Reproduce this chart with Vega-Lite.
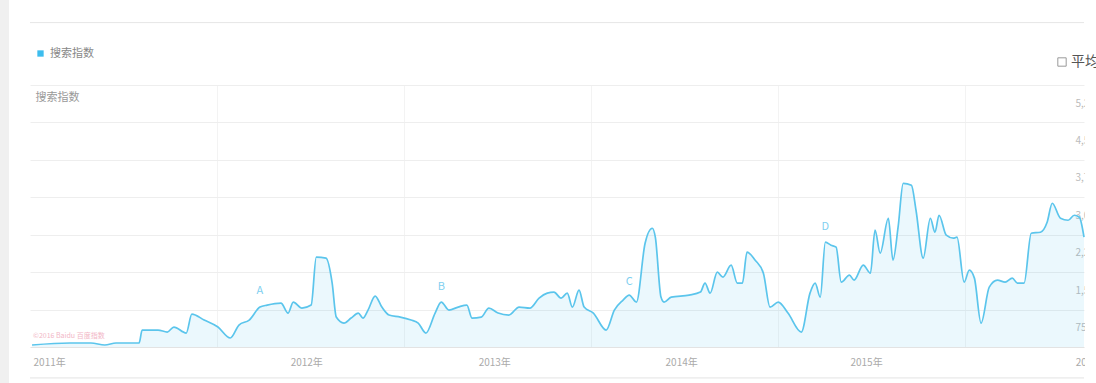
{
  "$schema": "https://vega.github.io/schema/vega-lite/v6.json",
  "width": 1054,
  "height": 262,
  "autosize": {"type": "none"},
  "padding": {"left": 30, "top": 85, "right": 12, "bottom": 36},
  "background": "white",
  "config": {"font": "Noto Sans CJK SC", "view": {"stroke": null}},
  "data": {"values": [{"k": "frame"}]},
  "datasets": {
    "main": [
      {"date": "2011-01-05", "value": 40, "series": "搜索指数"},
      {"date": "2011-03-20", "value": 80, "series": "搜索指数"},
      {"date": "2011-04-30", "value": 80, "series": "搜索指数"},
      {"date": "2011-05-27", "value": 40, "series": "搜索指数"},
      {"date": "2011-06-18", "value": 80, "series": "搜索指数"},
      {"date": "2011-08-02", "value": 80, "series": "搜索指数"},
      {"date": "2011-08-08", "value": 340, "series": "搜索指数"},
      {"date": "2011-09-08", "value": 340, "series": "搜索指数"},
      {"date": "2011-09-26", "value": 300, "series": "搜索指数"},
      {"date": "2011-10-09", "value": 400, "series": "搜索指数"},
      {"date": "2011-11-02", "value": 280, "series": "搜索指数"},
      {"date": "2011-11-13", "value": 660, "series": "搜索指数"},
      {"date": "2011-12-07", "value": 540, "series": "搜索指数"},
      {"date": "2012-01-03", "value": 400, "series": "搜索指数"},
      {"date": "2012-01-27", "value": 180, "series": "搜索指数"},
      {"date": "2012-02-13", "value": 440, "series": "搜索指数"},
      {"date": "2012-03-04", "value": 540, "series": "搜索指数"},
      {"date": "2012-03-25", "value": 800, "series": "搜索指数"},
      {"date": "2012-04-08", "value": 840, "series": "搜索指数"},
      {"date": "2012-05-05", "value": 880, "series": "搜索指数"},
      {"date": "2012-05-19", "value": 680, "series": "搜索指数"},
      {"date": "2012-05-29", "value": 900, "series": "搜索指数"},
      {"date": "2012-06-15", "value": 780, "series": "搜索指数"},
      {"date": "2012-07-03", "value": 840, "series": "搜索指数"},
      {"date": "2012-07-13", "value": 1800, "series": "搜索指数"},
      {"date": "2012-08-01", "value": 1780, "series": "搜索指数"},
      {"date": "2012-08-13", "value": 1280, "series": "搜索指数"},
      {"date": "2012-08-21", "value": 600, "series": "搜索指数"},
      {"date": "2012-09-05", "value": 480, "series": "搜索指数"},
      {"date": "2012-09-19", "value": 580, "series": "搜索指数"},
      {"date": "2012-10-03", "value": 680, "series": "搜索指数"},
      {"date": "2012-10-12", "value": 580, "series": "搜索指数"},
      {"date": "2012-10-22", "value": 740, "series": "搜索指数"},
      {"date": "2012-11-05", "value": 1020, "series": "搜索指数"},
      {"date": "2012-11-18", "value": 800, "series": "搜索指数"},
      {"date": "2012-12-02", "value": 640, "series": "搜索指数"},
      {"date": "2012-12-24", "value": 600, "series": "搜索指数"},
      {"date": "2013-01-14", "value": 540, "series": "搜索指数"},
      {"date": "2013-01-28", "value": 480, "series": "搜索指数"},
      {"date": "2013-02-12", "value": 280, "series": "搜索指数"},
      {"date": "2013-03-02", "value": 680, "series": "搜索指数"},
      {"date": "2013-03-14", "value": 900, "series": "搜索指数"},
      {"date": "2013-03-29", "value": 740, "series": "搜索指数"},
      {"date": "2013-04-16", "value": 800, "series": "搜索指数"},
      {"date": "2013-05-03", "value": 840, "series": "搜索指数"},
      {"date": "2013-05-13", "value": 580, "series": "搜索指数"},
      {"date": "2013-05-31", "value": 600, "series": "搜索指数"},
      {"date": "2013-06-15", "value": 780, "series": "搜索指数"},
      {"date": "2013-07-03", "value": 680, "series": "搜索指数"},
      {"date": "2013-07-24", "value": 640, "series": "搜索指数"},
      {"date": "2013-08-13", "value": 800, "series": "搜索指数"},
      {"date": "2013-09-03", "value": 780, "series": "搜索指数"},
      {"date": "2013-09-21", "value": 980, "series": "搜索指数"},
      {"date": "2013-10-07", "value": 1080, "series": "搜索指数"},
      {"date": "2013-10-20", "value": 1100, "series": "搜索指数"},
      {"date": "2013-11-03", "value": 980, "series": "搜索指数"},
      {"date": "2013-11-15", "value": 1080, "series": "搜索指数"},
      {"date": "2013-11-25", "value": 800, "series": "搜索指数"},
      {"date": "2013-12-08", "value": 1140, "series": "搜索指数"},
      {"date": "2013-12-18", "value": 800, "series": "搜索指数"},
      {"date": "2014-01-05", "value": 680, "series": "搜索指数"},
      {"date": "2014-01-30", "value": 340, "series": "搜索指数"},
      {"date": "2014-02-15", "value": 740, "series": "搜索指数"},
      {"date": "2014-03-04", "value": 940, "series": "搜索指数"},
      {"date": "2014-03-16", "value": 1040, "series": "搜索指数"},
      {"date": "2014-03-30", "value": 900, "series": "搜索指数"},
      {"date": "2014-04-16", "value": 2080, "series": "搜索指数"},
      {"date": "2014-04-30", "value": 2380, "series": "搜索指数"},
      {"date": "2014-05-06", "value": 2200, "series": "搜索指数"},
      {"date": "2014-05-17", "value": 1000, "series": "搜索指数"},
      {"date": "2014-05-23", "value": 900, "series": "搜索指数"},
      {"date": "2014-06-06", "value": 1000, "series": "搜索指数"},
      {"date": "2014-07-11", "value": 1040, "series": "搜索指数"},
      {"date": "2014-08-02", "value": 1100, "series": "搜索指数"},
      {"date": "2014-08-11", "value": 1280, "series": "搜索指数"},
      {"date": "2014-08-21", "value": 1080, "series": "搜索指数"},
      {"date": "2014-09-04", "value": 1500, "series": "搜索指数"},
      {"date": "2014-09-15", "value": 1400, "series": "搜索指数"},
      {"date": "2014-10-01", "value": 1640, "series": "搜索指数"},
      {"date": "2014-10-13", "value": 1280, "series": "搜索指数"},
      {"date": "2014-10-23", "value": 1280, "series": "搜索指数"},
      {"date": "2014-11-01", "value": 1900, "series": "搜索指数"},
      {"date": "2014-11-17", "value": 1740, "series": "搜索指数"},
      {"date": "2014-12-03", "value": 1480, "series": "搜索指数"},
      {"date": "2014-12-16", "value": 800, "series": "搜索指数"},
      {"date": "2015-01-01", "value": 900, "series": "搜索指数"},
      {"date": "2015-01-20", "value": 680, "series": "搜索指数"},
      {"date": "2015-02-15", "value": 300, "series": "搜索指数"},
      {"date": "2015-03-04", "value": 1080, "series": "搜索指数"},
      {"date": "2015-03-14", "value": 1280, "series": "搜索指数"},
      {"date": "2015-03-24", "value": 1000, "series": "搜索指数"},
      {"date": "2015-04-03", "value": 2100, "series": "搜索指数"},
      {"date": "2015-04-14", "value": 2040, "series": "搜索指数"},
      {"date": "2015-04-24", "value": 2000, "series": "搜索指数"},
      {"date": "2015-05-04", "value": 1300, "series": "搜索指数"},
      {"date": "2015-05-20", "value": 1440, "series": "搜索指数"},
      {"date": "2015-05-29", "value": 1340, "series": "搜索指数"},
      {"date": "2015-06-16", "value": 1640, "series": "搜索指数"},
      {"date": "2015-06-30", "value": 1480, "series": "搜索指数"},
      {"date": "2015-07-09", "value": 2340, "series": "搜索指数"},
      {"date": "2015-07-19", "value": 1880, "series": "搜索指数"},
      {"date": "2015-08-04", "value": 2580, "series": "搜索指数"},
      {"date": "2015-08-13", "value": 1740, "series": "搜索指数"},
      {"date": "2015-08-23", "value": 2400, "series": "搜索指数"},
      {"date": "2015-09-02", "value": 3280, "series": "搜索指数"},
      {"date": "2015-09-18", "value": 3240, "series": "搜索指数"},
      {"date": "2015-09-27", "value": 2740, "series": "搜索指数"},
      {"date": "2015-10-11", "value": 1780, "series": "搜索指数"},
      {"date": "2015-10-25", "value": 2580, "series": "搜索指数"},
      {"date": "2015-11-03", "value": 2300, "series": "搜索指数"},
      {"date": "2015-11-11", "value": 2640, "series": "搜索指数"},
      {"date": "2015-11-25", "value": 2240, "series": "搜索指数"},
      {"date": "2015-12-09", "value": 2180, "series": "搜索指数"},
      {"date": "2015-12-16", "value": 2200, "series": "搜索指数"},
      {"date": "2015-12-30", "value": 1300, "series": "搜索指数"},
      {"date": "2016-01-09", "value": 1540, "series": "搜索指数"},
      {"date": "2016-01-19", "value": 1380, "series": "搜索指数"},
      {"date": "2016-02-01", "value": 480, "series": "搜索指数"},
      {"date": "2016-02-17", "value": 1200, "series": "搜索指数"},
      {"date": "2016-03-04", "value": 1340, "series": "搜索指数"},
      {"date": "2016-03-19", "value": 1300, "series": "搜索指数"},
      {"date": "2016-04-02", "value": 1380, "series": "搜索指数"},
      {"date": "2016-04-12", "value": 1280, "series": "搜索指数"},
      {"date": "2016-04-25", "value": 1280, "series": "搜索指数"},
      {"date": "2016-05-09", "value": 2280, "series": "搜索指数"},
      {"date": "2016-05-27", "value": 2300, "series": "搜索指数"},
      {"date": "2016-06-09", "value": 2500, "series": "搜索指数"},
      {"date": "2016-06-19", "value": 2880, "series": "搜索指数"},
      {"date": "2016-07-05", "value": 2580, "series": "搜索指数"},
      {"date": "2016-07-20", "value": 2540, "series": "搜索指数"},
      {"date": "2016-08-01", "value": 2640, "series": "搜索指数"},
      {"date": "2016-08-11", "value": 2600, "series": "搜索指数"},
      {"date": "2016-08-20", "value": 2200, "series": "搜索指数"}
    ],
    "notes": [
      {"date": "2012-03-25", "value": 1120, "label": "A"},
      {"date": "2013-03-14", "value": 1200, "label": "B"},
      {"date": "2014-03-16", "value": 1300, "label": "C"},
      {"date": "2015-04-03", "value": 2400, "label": "D"}
    ],
    "stamp": [
      {"date": "2011-01-07", "value": 220, "label": "©2016 Baidu 百度指数"}
    ],
    "toggle": [
      {"k": "平均值"}
    ]
  },
  "layer": [
    {
      "mark": {"type": "rect", "color": "#f0f0f0", "clip": false},
      "encoding": {
        "x": {"datum": {"year": 2010, "month": 11, "date": 3}, "type": "temporal", "scale": {"domain": [{"year": 2011, "month": 1, "date": 1}, {"year": 2016, "month": 8, "date": 20}]}, "axis": null},
        "x2": {"datum": {"year": 2010, "month": 11, "date": 21}},
        "y": {
          "datum": 7200, "type": "quantitative",
          "scale": {"domain": [0, 5250], "nice": false, "zero": false},
          "axis": {
            "orient": "right", "zindex": 0,
            "values": [750, 1500, 2250, 3000, 3750, 4500, 5250],
            "labelExpr": "format(datum.value, ',')",
            "grid": true, "gridColor": "#eeeeee", "ticks": false, "domain": false,
            "labelPadding": -9, "labelAlign": "left", "labelOffset": 18,
            "labelColor": "#bbbbbb", "labelFontSize": 10,
            "title": "搜索指数", "titleAngle": 0, "titleX": -1049, "titleY": 12,
            "titleAlign": "left", "titleBaseline": "middle",
            "titleColor": "#999999", "titleFontWeight": "normal", "titleFontSize": 11
          }
        },
        "y2": {"datum": -2000}
      }
    },
    {
      "mark": {"type": "rule", "color": "#e6e6e6", "strokeWidth": 1, "clip": false},
      "encoding": {"y": {"datum": 6500, "type": "quantitative"}}
    },
    {
      "mark": {"type": "rule", "color": "#e3e3e3", "strokeWidth": 1, "clip": false},
      "encoding": {"y": {"datum": -620, "type": "quantitative"}}
    },
    {
      "data": {"name": "main"},
      "mark": {"type": "area", "interpolate": "monotone", "fillOpacity": 0.1},
      "encoding": {
        "x": {
          "field": "date", "type": "temporal",
          "axis": {
            "zindex": 0,
            "values": [
              {"year": 2011, "month": 1, "date": 7},
              {"year": 2012, "month": 5, "date": 23},
              {"year": 2013, "month": 5, "date": 25},
              {"year": 2014, "month": 5, "date": 25},
              {"year": 2015, "month": 5, "date": 21},
              {"year": 2016, "month": 8, "date": 3}
            ],
            "labelExpr": "timeFormat(datum.value, '%Y') + '年'",
            "grid": false, "ticks": false, "domainColor": "#e3e3e3",
            "labelColor": "#aaaaaa", "labelFontSize": 10, "labelAlign": "left",
            "labelPadding": 10, "labelOverlap": false, "labelBound": false, "labelFlush": false,
            "title": null
          }
        },
        "y": {"field": "value", "type": "quantitative"},
        "color": {
          "field": "series", "type": "nominal",
          "scale": {"range": ["#3dbdee"]},
          "legend": {
            "orient": "none", "legendX": 5, "legendY": -37, "title": null,
            "symbolType": "square", "symbolSize": 40, "symbolOpacity": 1,
            "labelFontSize": 11, "labelColor": "#888888"
          }
        }
      }
    },
    {
      "data": {"name": "main"},
      "mark": {"type": "line", "interpolate": "monotone", "color": "#5bc5ec", "strokeWidth": 1.7},
      "encoding": {
        "x": {
          "field": "date", "type": "temporal",
          "axis": {
            "zindex": 0,
            "values": [
              {"year": 2012, "month": 1, "date": 1},
              {"year": 2013, "month": 1, "date": 1},
              {"year": 2014, "month": 1, "date": 1},
              {"year": 2015, "month": 1, "date": 1},
              {"year": 2016, "month": 1, "date": 1}
            ],
            "grid": true, "gridColor": "#f3f3f3", "labels": false, "ticks": false, "domain": false, "title": null
          }
        },
        "y": {"field": "value", "type": "quantitative"}
      }
    },
    {
      "data": {"name": "notes"},
      "mark": {"type": "text", "color": "#7fcff0", "fontSize": 11},
      "encoding": {
        "x": {"field": "date", "type": "temporal", "axis": null},
        "y": {"field": "value", "type": "quantitative"},
        "text": {"field": "label"}
      }
    },
    {
      "data": {"name": "stamp"},
      "mark": {"type": "text", "color": "#f2b6c6", "fontSize": 7, "align": "left"},
      "encoding": {
        "x": {"field": "date", "type": "temporal", "axis": null},
        "y": {"field": "value", "type": "quantitative"},
        "text": {"field": "label"}
      }
    },
    {
      "mark": {"type": "rect", "color": "white", "clip": false},
      "encoding": {
        "x": {"datum": {"year": 2016, "month": 8, "date": 22}, "type": "temporal", "axis": null},
        "x2": {"datum": {"year": 2017, "month": 3, "date": 1}},
        "y": {"datum": 5600, "type": "quantitative"},
        "y2": {"datum": -1000}
      }
    },
    {
      "data": {"name": "toggle"},
      "mark": {"type": "point", "opacity": 0},
      "encoding": {
        "shape": {
          "field": "k", "type": "nominal",
          "scale": {"range": ["square"]},
          "legend": {
            "orient": "none", "legendX": 1025, "legendY": -30, "title": null,
            "symbolSize": 70, "symbolOpacity": 1, "symbolFillColor": "white",
            "symbolStrokeColor": "#999999", "symbolStrokeWidth": 1,
            "labelFontSize": 14, "labelColor": "#555555", "labelOffset": 2
          }
        }
      }
    }
  ],
  "resolve": {"axis": {"x": "independent"}}
}
